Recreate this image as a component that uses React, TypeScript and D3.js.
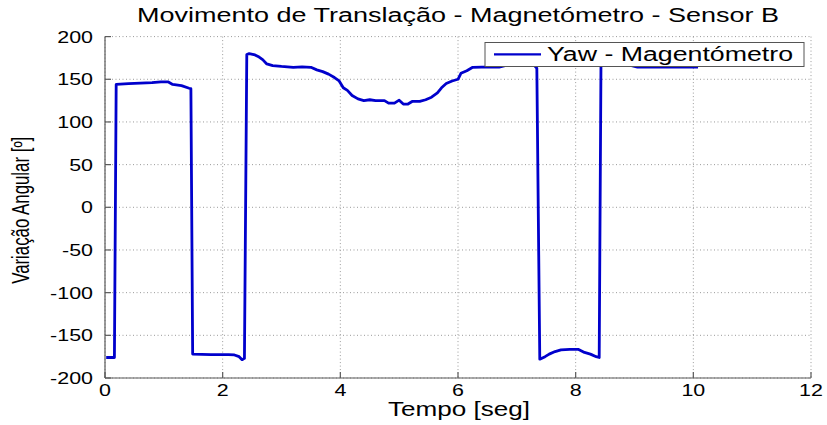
import React from 'react';
import * as d3 from 'd3';

// Data: time (s) and yaw (degrees)
const timeSec: number[] = [
  0.02, 0.16, 0.19, 0.4, 0.6, 0.8, 0.95, 1.07, 1.15, 1.3, 1.43, 1.46,
  1.49, 1.8, 2.1, 2.2, 2.28, 2.33, 2.37,
  2.41, 2.45, 2.55, 2.62, 2.68, 2.75, 2.85, 3.0, 3.2, 3.35, 3.5, 3.6, 3.7, 3.8, 3.9, 3.98,
  4.05, 4.12, 4.2, 4.3, 4.4, 4.5, 4.6, 4.75, 4.82, 4.92, 5.0, 5.07, 5.15, 5.22, 5.35, 5.45,
  5.55, 5.65, 5.72, 5.8, 5.9, 6.0, 6.05, 6.15, 6.25, 6.4, 6.7, 6.8, 7.0, 7.3, 7.34,
  7.39, 7.48, 7.55, 7.65, 7.75, 7.9, 8.05, 8.15, 8.25, 8.35, 8.4,
  8.43, 8.6, 8.95, 9.05, 9.5, 10.08,
];
const yawDeg: number[] = [
  -176, -176, 144, 145, 145.5, 146, 147, 147, 144, 142.5, 139.5, 139,
  -172, -172.5, -172.5, -173, -175, -178.5, -177,
  179, 180, 178.5, 176, 173, 168, 166, 165, 164, 164.5, 164, 161, 159, 156, 152, 148,
  140, 137, 131, 127, 125, 126, 125, 125, 122, 122, 125.5, 121, 121, 124, 124, 126,
  129, 134, 140, 145, 148, 150, 157, 160, 164, 164.3, 164.3, 166, 166, 166, 163,
  -178, -175, -172, -169, -167, -166.5, -166.5, -170, -172, -175, -176,
  166, 166, 166, 164.2, 164.2, 164.2,
];

const xTicks: number[] = [0, 2, 4, 6, 8, 10, 12];
const yTicks: number[] = [-200, -150, -100, -50, 0, 50, 100, 150, 200];
const titleText = 'Movimento de Translação - Magnetómetro - Sensor B';
const xLabel = 'Tempo [seg]';
const yLabel = 'Variação Angular [º]';
const legendLabel = 'Yaw - Magentómetro';

const FONT = '"Liberation Sans", Arial, Helvetica, sans-serif';

export default function App() {
  const W = 827;
  const H = 425;
  const left = 105, right = 811, top = 36.6, bottom = 378;
  const x = d3.scaleLinear().domain([0, 12]).range([left, right]);
  const y = d3.scaleLinear().domain([-200, 200]).range([bottom, top]);
  const pts: [number, number][] = timeSec.map((t, i) => [t, yawDeg[i]]);
  const line = d3.line<[number, number]>().x(d => x(d[0])).y(d => y(d[1]));
  const lineColor = '#0000cc';
  const gridColor = '#9a9a9a';
  const axisColor = '#5a5a5a';
  const sx = 1.3;

  return (
    <svg width={W} height={H} style={{ position: 'absolute', left: 0, top: 0, background: '#fff' }}>
      <rect x={0} y={0} width={W} height={H} fill="#fff" />
      {/* grid */}
      {xTicks.map(t => (
        <line key={'gx' + t} x1={x(t)} x2={x(t)} y1={top} y2={bottom}
          stroke={gridColor} strokeWidth={1} strokeDasharray="1 2.5" />
      ))}
      {yTicks.map(t => (
        <line key={'gy' + t} x1={left} x2={right} y1={y(t)} y2={y(t)}
          stroke={gridColor} strokeWidth={1} strokeDasharray="1 2.5" />
      ))}
      {/* axes */}
      <line x1={left} x2={left} y1={top} y2={bottom} stroke={axisColor} strokeWidth={1.2} />
      <line x1={left} x2={right} y1={bottom} y2={bottom} stroke={axisColor} strokeWidth={1.2} />
      {xTicks.map(t => (
        <line key={'tx' + t} x1={x(t)} x2={x(t)} y1={bottom} y2={bottom - 6} stroke={axisColor} strokeWidth={1.2} />
      ))}
      {yTicks.map(t => (
        <line key={'ty' + t} x1={left} x2={left + 6} y1={y(t)} y2={y(t)} stroke={axisColor} strokeWidth={1.2} />
      ))}
      {/* data line */}
      <path d={line(pts) || ''} fill="none" stroke={lineColor} strokeWidth={2.8} strokeLinejoin="round" />
      {/* tick labels */}
      {xTicks.map(t => (
        <text key={'lx' + t} transform={`translate(${x(t)},${bottom + 18}) scale(${sx},1)`}
          textAnchor="middle" fontFamily={FONT} fontSize={16.5} fill="#000">{t}</text>
      ))}
      {yTicks.map(t => (
        <text key={'ly' + t} transform={`translate(${left - 12},${y(t) + 6}) scale(${sx},1)`}
          textAnchor="end" fontFamily={FONT} fontSize={16.5} fill="#000">{t}</text>
      ))}
      {/* title */}
      <text x={137} y={22} fontFamily={FONT} fontSize={20} textLength={642}
        lengthAdjust="spacingAndGlyphs" fill="#000">{titleText}</text>
      {/* x label */}
      <text x={388} y={416} fontFamily={FONT} fontSize={19.5} textLength={142}
        lengthAdjust="spacingAndGlyphs" fill="#000">{xLabel}</text>
      {/* y label */}
      <text transform={`translate(29,${(top + bottom) / 2 + 3}) rotate(-90)`} textAnchor="middle"
        fontFamily={FONT} fontSize={23} textLength={147} lengthAdjust="spacingAndGlyphs" fill="#000">{yLabel}</text>
      {/* legend */}
      <rect x={485} y={42.5} width={319} height={24} fill="#fff" stroke="#555" strokeWidth={1} />
      <line x1={494} x2={541} y1={54.3} y2={54.3} stroke={lineColor} strokeWidth={2.2} />
      <text x={547} y={61} fontFamily={FONT} fontSize={20} textLength={246}
        lengthAdjust="spacingAndGlyphs" fill="#000">{legendLabel}</text>
    </svg>
  );
}
